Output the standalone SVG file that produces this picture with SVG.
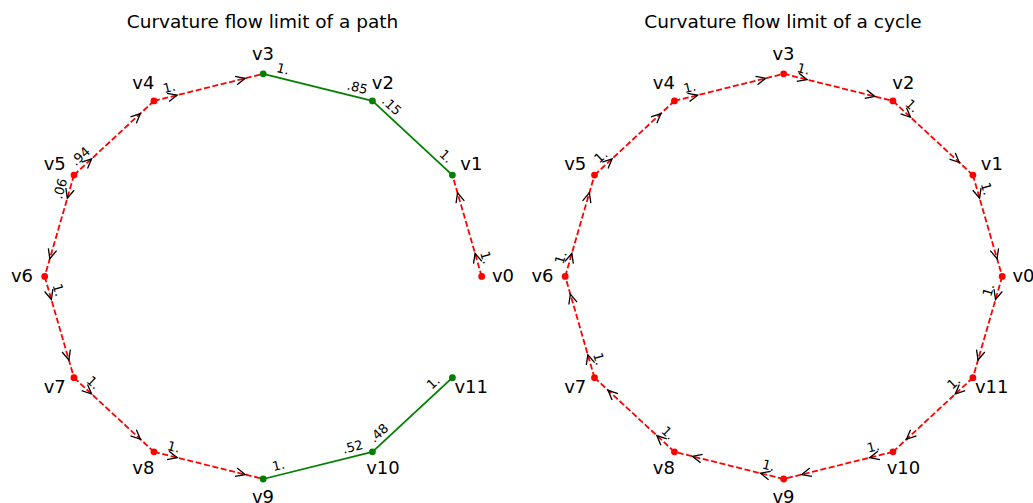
<svg xmlns="http://www.w3.org/2000/svg" width="1033" height="503" viewBox="0 0 1033 503">
<defs>
<marker id="ah" markerUnits="userSpaceOnUse" orient="auto" refX="0" refY="0" markerWidth="20" markerHeight="20" overflow="visible">
<path d="M -9.5 -4.3 L 0 0 L -9.5 4.3" fill="none" stroke="#000" stroke-width="1.3" stroke-dasharray="none"/>
</marker>
<style>
.red{stroke:#ff0000;stroke-width:1.8;stroke-dasharray:6 2.6;fill:none;marker-mid:url(#ah)}
.green{stroke:#008000;stroke-width:1.8;fill:none}
.nr{fill:#ff0000}
.ng{fill:#008000}
.nl{font-family:"DejaVu Sans",sans-serif;font-size:18px;text-anchor:middle;fill:#000}
.el{font-family:"DejaVu Sans",sans-serif;font-size:13px;text-anchor:middle;dominant-baseline:central;fill:#000}
.title{font-family:"DejaVu Sans",sans-serif;font-size:18.5px;text-anchor:middle;fill:#000}
</style>
</defs>
<rect width="1033" height="503" fill="#fff"/>
<text class="title" x="262.5" y="28">Curvature flow limit of a path</text>
<text class="title" x="783" y="28">Curvature flow limit of a cycle</text>

<g id="connectors">
<!-- left: path -->
<path class="red" d="M481.7 276.4 L475.03 253.35 L457.54 192.88 L452.4 175.1"/>
<path class="green" d="M452.4 175.1 L372.45 100.94"/>
<path class="green" d="M372.45 100.94 L263.2 73.8"/>
<path class="red" d="M153.95 100.94 L177.24 95.15 L245.24 78.26 L263.2 73.8"/>
<path class="red" d="M74 175.1 L91.6 158.78 L140.39 113.52 L153.95 100.94"/>
<path class="red" d="M74 175.1 L67.33 198.15 L49.84 258.62 L44.7 276.4"/>
<path class="red" d="M44.7 276.4 L51.37 299.45 L68.86 359.92 L74 377.7"/>
<path class="red" d="M74 377.7 L91.6 394.02 L140.39 439.28 L153.95 451.86"/>
<path class="red" d="M153.95 451.86 L177.24 457.65 L245.24 474.54 L263.2 479"/>
<path class="green" d="M263.2 479 L372.45 451.86"/>
<path class="green" d="M372.45 451.86 L452.4 377.7"/>
<!-- right: cycle -->
<path class="red" d="M783.7 73.8 L806.99 79.59 L874.99 96.48 L892.95 100.94"/>
<path class="red" d="M892.95 100.94 L910.55 117.26 L959.34 162.52 L972.9 175.1"/>
<path class="red" d="M972.9 175.1 L979.57 198.15 L997.06 258.62 L1002.2 276.4"/>
<path class="red" d="M1002.2 276.4 L995.53 299.45 L978.04 359.92 L972.9 377.7"/>
<path class="red" d="M972.9 377.7 L955.3 394.02 L906.51 439.28 L892.95 451.86"/>
<path class="red" d="M892.95 451.86 L869.66 457.65 L801.66 474.54 L783.7 479"/>
<path class="red" d="M783.7 479 L760.41 473.21 L692.41 456.32 L674.45 451.86"/>
<path class="red" d="M674.45 451.86 L656.85 435.54 L608.06 390.28 L594.5 377.7"/>
<path class="red" d="M594.5 377.7 L587.83 354.65 L570.34 294.18 L565.2 276.4"/>
<path class="red" d="M565.2 276.4 L571.87 253.35 L589.36 192.88 L594.5 175.1"/>
<path class="red" d="M594.5 175.1 L612.1 158.78 L660.89 113.52 L674.45 100.94"/>
<path class="red" d="M674.45 100.94 L697.74 95.15 L765.74 78.26 L783.7 73.8"/>
</g>

<g id="edge-labels">
<text class="el" transform="translate(486.14 257.55) rotate(73.87)">1.</text>
<text class="el" transform="translate(446.07 156.26) rotate(42.85)">1.</text>
<text class="el" transform="translate(357.26 87.38) rotate(13.95)">.85</text>
<text class="el" transform="translate(391.7 105.84) rotate(42.85)">.15</text>
<text class="el" transform="translate(282.97 68.92) rotate(13.95)">1.</text>
<text class="el" transform="translate(169.14 87.38) rotate(-13.95)">1.</text>
<text class="el" transform="translate(80.33 156.26) rotate(-42.85)">.94</text>
<text class="el" transform="translate(60.18 188.67) rotate(-73.87)">.06</text>
<text class="el" transform="translate(58.52 289.97) rotate(73.87)">1.</text>
<text class="el" transform="translate(93.25 382.6) rotate(42.85)">1.</text>
<text class="el" transform="translate(173.72 446.98) rotate(13.95)">1.</text>
<text class="el" transform="translate(278.39 465.44) rotate(-13.95)">1.</text>
<text class="el" transform="translate(352.68 446.98) rotate(-13.95)">.52</text>
<text class="el" transform="translate(378.78 433.02) rotate(-42.85)">.48</text>
<text class="el" transform="translate(433.15 382.6) rotate(-42.85)">1.</text>

<text class="el" transform="translate(803.47 68.92) rotate(13.95)">1.</text>
<text class="el" transform="translate(912.2 105.84) rotate(42.85)">1.</text>
<text class="el" transform="translate(986.72 188.67) rotate(73.87)">1.</text>
<text class="el" transform="translate(988.38 289.97) rotate(-73.87)">1.</text>
<text class="el" transform="translate(953.65 382.6) rotate(-42.85)">1.</text>
<text class="el" transform="translate(873.18 446.98) rotate(-13.95)">1.</text>
<text class="el" transform="translate(768.51 465.44) rotate(13.95)">1.</text>
<text class="el" transform="translate(668.12 433.02) rotate(42.85)">1.</text>
<text class="el" transform="translate(598.94 358.85) rotate(73.87)">1.</text>
<text class="el" transform="translate(560.76 257.55) rotate(-73.87)">1.</text>
<text class="el" transform="translate(600.83 156.26) rotate(-42.85)">1.</text>
<text class="el" transform="translate(689.64 87.38) rotate(-13.95)">1.</text>
</g>

<g id="path-v0"><circle class="nr" cx="481.7" cy="276.4" r="3.4"/><text class="nl" x="503" y="281.7">v0</text></g>
<g id="path-v1"><circle class="ng" cx="452.4" cy="175.1" r="3.4"/><text class="nl" x="471.3" y="170">v1</text></g>
<g id="path-v2"><circle class="ng" cx="372.45" cy="100.94" r="3.4"/><text class="nl" x="382.8" y="89.3">v2</text></g>
<g id="path-v3"><circle class="ng" cx="263.2" cy="73.8" r="3.4"/><text class="nl" x="263" y="60">v3</text></g>
<g id="path-v4"><circle class="nr" cx="153.95" cy="100.94" r="3.4"/><text class="nl" x="143.3" y="89.3">v4</text></g>
<g id="path-v5"><circle class="nr" cx="74" cy="175.1" r="3.4"/><text class="nl" x="54.7" y="170">v5</text></g>
<g id="path-v6"><circle class="nr" cx="44.7" cy="276.4" r="3.4"/><text class="nl" x="22" y="281.7">v6</text></g>
<g id="path-v7"><circle class="nr" cx="74" cy="377.7" r="3.4"/><text class="nl" x="54.7" y="393.3">v7</text></g>
<g id="path-v8"><circle class="nr" cx="153.95" cy="451.86" r="3.4"/><text class="nl" x="143.3" y="474">v8</text></g>
<g id="path-v9"><circle class="ng" cx="263.2" cy="479" r="3.4"/><text class="nl" x="263" y="502.5">v9</text></g>
<g id="path-v10"><circle class="ng" cx="372.45" cy="451.86" r="3.4"/><text class="nl" x="383" y="474">v10</text></g>
<g id="path-v11"><circle class="ng" cx="452.4" cy="377.7" r="3.4"/><text class="nl" x="471.2" y="393.3">v11</text></g>

<g id="cycle-v0"><circle class="nr" cx="1002.2" cy="276.4" r="3.4"/><text class="nl" x="1023.5" y="281.7">v0</text></g>
<g id="cycle-v1"><circle class="nr" cx="972.9" cy="175.1" r="3.4"/><text class="nl" x="991.8" y="170">v1</text></g>
<g id="cycle-v2"><circle class="nr" cx="892.95" cy="100.94" r="3.4"/><text class="nl" x="903.3" y="89.3">v2</text></g>
<g id="cycle-v3"><circle class="nr" cx="783.7" cy="73.8" r="3.4"/><text class="nl" x="783.5" y="60">v3</text></g>
<g id="cycle-v4"><circle class="nr" cx="674.45" cy="100.94" r="3.4"/><text class="nl" x="663.8" y="89.3">v4</text></g>
<g id="cycle-v5"><circle class="nr" cx="594.5" cy="175.1" r="3.4"/><text class="nl" x="575.2" y="170">v5</text></g>
<g id="cycle-v6"><circle class="nr" cx="565.2" cy="276.4" r="3.4"/><text class="nl" x="542.5" y="281.7">v6</text></g>
<g id="cycle-v7"><circle class="nr" cx="594.5" cy="377.7" r="3.4"/><text class="nl" x="575.2" y="393.3">v7</text></g>
<g id="cycle-v8"><circle class="nr" cx="674.45" cy="451.86" r="3.4"/><text class="nl" x="663.8" y="474">v8</text></g>
<g id="cycle-v9"><circle class="nr" cx="783.7" cy="479" r="3.4"/><text class="nl" x="783.5" y="502.5">v9</text></g>
<g id="cycle-v10"><circle class="nr" cx="892.95" cy="451.86" r="3.4"/><text class="nl" x="903.5" y="474">v10</text></g>
<g id="cycle-v11"><circle class="nr" cx="972.9" cy="377.7" r="3.4"/><text class="nl" x="991.7" y="393.3">v11</text></g>
</svg>
